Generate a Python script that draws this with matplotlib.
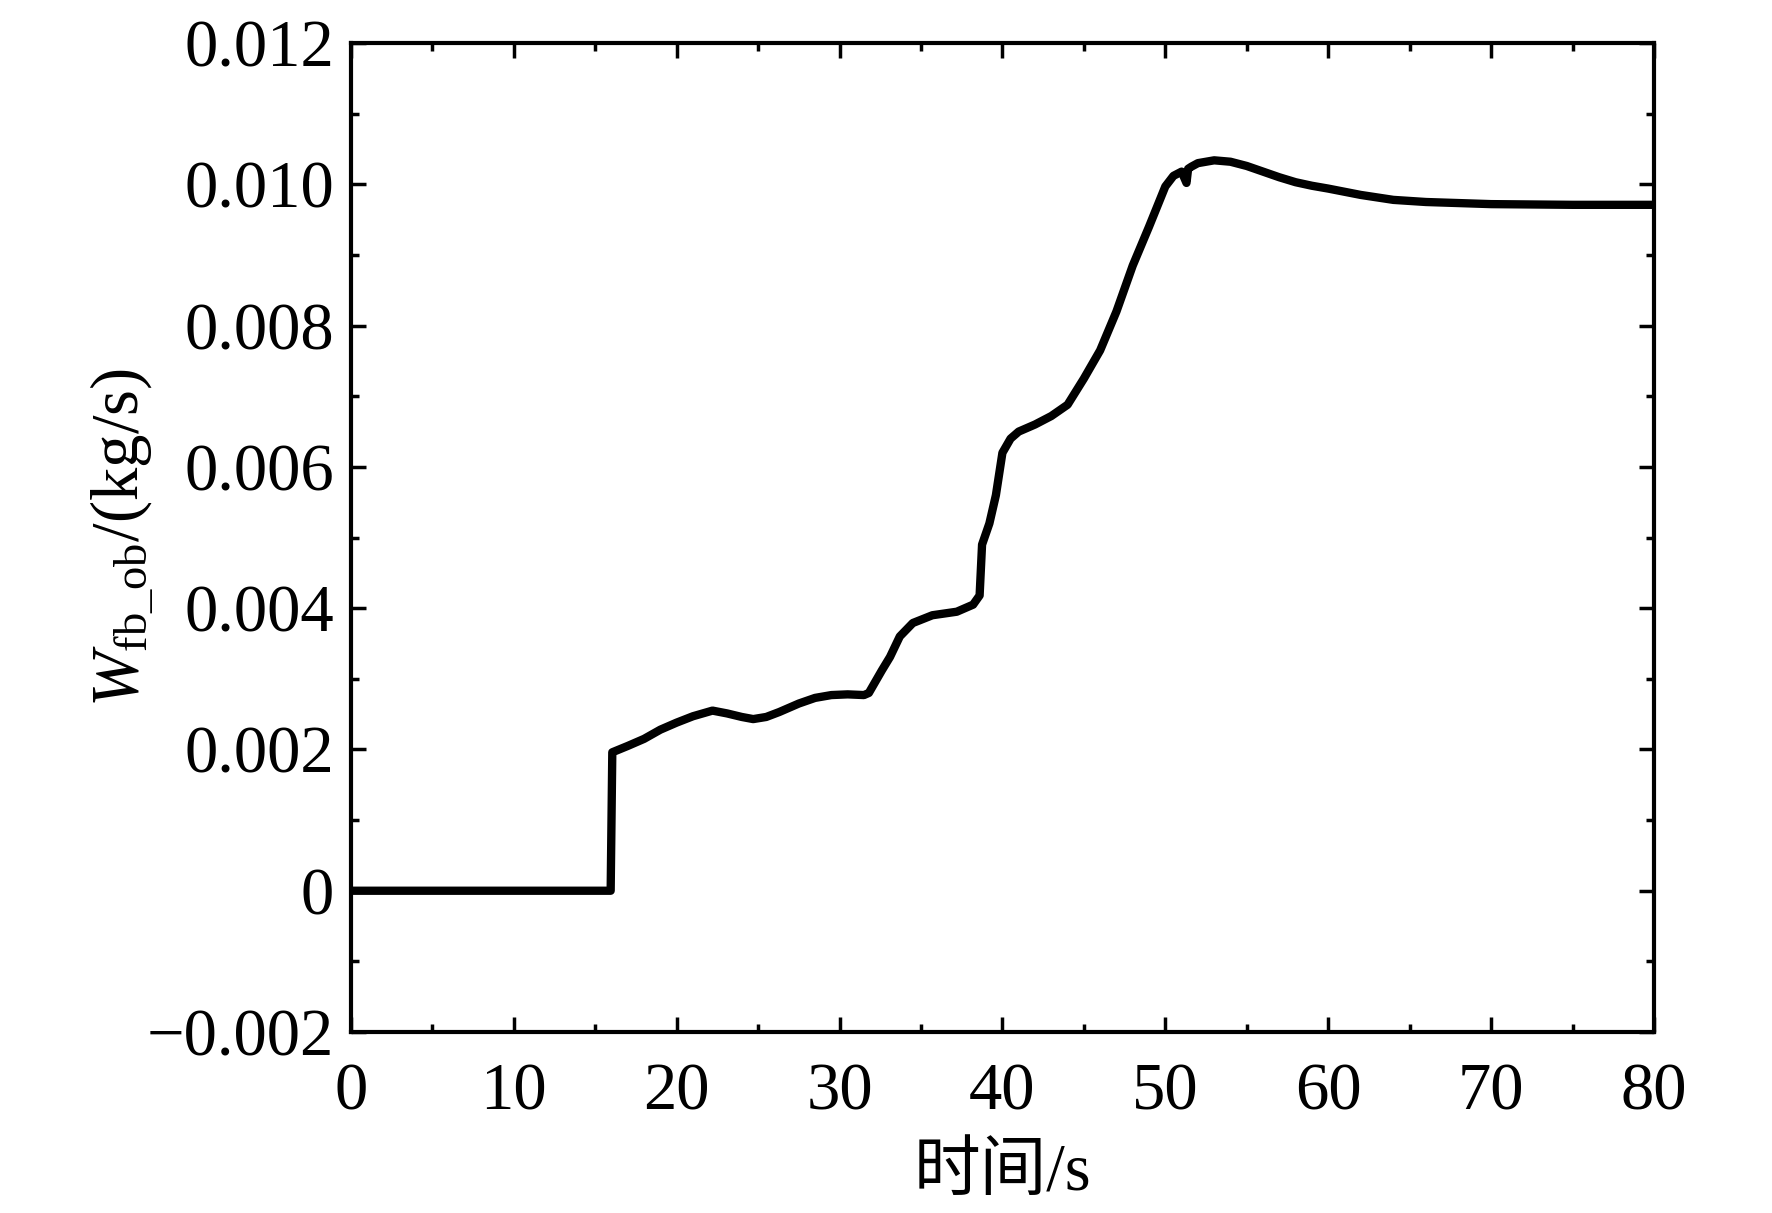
import matplotlib
matplotlib.use("Agg")
import matplotlib.pyplot as plt
from matplotlib.ticker import MultipleLocator, FuncFormatter

plt.rcParams['font.family'] = ['Liberation Serif', 'Noto Sans CJK SC', 'DejaVu Sans']
plt.rcParams['mathtext.fontset'] = 'custom'
plt.rcParams['mathtext.rm'] = 'Liberation Serif'
plt.rcParams['mathtext.it'] = 'Liberation Serif:italic'
plt.rcParams['axes.unicode_minus'] = True

# data (time s, W_fb_ob kg/s)
time_s = [0, 15.95, 16.05, 17, 18, 19, 20, 21, 22.2, 23.1, 24, 24.7, 25.5, 26.3,
          27.5, 28.5, 29.5, 30.5, 31.5, 31.8, 32.1, 32.6, 33.1, 33.7, 34.5, 35.7,
          37.2, 38.2, 38.6, 38.75, 39.2, 39.6, 40, 40.5, 41, 42, 43, 44, 45,
          46, 47, 48, 49, 50, 50.5, 51, 51.3, 51.4, 51.6, 52, 53, 54, 55, 56,
          57, 58, 59, 60, 62, 64, 66, 70, 75, 80]
w_fb_ob = [0, 0, 0.00196, 0.00205, 0.00215, 0.00228, 0.00238, 0.00247, 0.00255,
           0.00251, 0.00246, 0.00243, 0.00246, 0.00253, 0.00265, 0.00273,
           0.00277, 0.00278, 0.00277, 0.00280, 0.00292, 0.00312, 0.00331, 0.0036,
           0.00379, 0.0039, 0.00395, 0.00405, 0.00418, 0.0049, 0.0052, 0.0056,
           0.0062, 0.0064, 0.0065, 0.0066, 0.00672, 0.00688, 0.00725, 0.00765,
           0.0082, 0.00885, 0.0094, 0.00997, 0.01012, 0.01018, 0.01002, 0.01022,
           0.01025, 0.01030, 0.01034, 0.01032, 0.01026, 0.01018, 0.01010, 0.01003,
           0.00998, 0.00994, 0.00985, 0.00978, 0.00975, 0.00972, 0.00971, 0.00971]

x_ticks = [0, 10, 20, 30, 40, 50, 60, 70, 80]
y_ticks = [-0.002, 0, 0.002, 0.004, 0.006, 0.008, 0.010, 0.012]

fig = plt.figure(figsize=(17.72, 12.13), dpi=100)
ax = fig.add_axes([0.198, 0.1492, 0.9334 - 0.198, 0.9645 - 0.1492])

ax.plot(time_s, w_fb_ob, color='black', lw=6.0, solid_joinstyle='round',
        solid_capstyle='round')

ax.set_xlim(0, 80)
ax.set_ylim(-0.002, 0.012)
ax.set_xticks(x_ticks)
ax.set_yticks(y_ticks)
ax.xaxis.set_minor_locator(MultipleLocator(5))
ax.yaxis.set_minor_locator(MultipleLocator(0.001))

def yfmt(v, pos):
    if abs(v) < 1e-12:
        return '0'
    s = f'{v:.3f}'
    return s.replace('-', '\u2212')

ax.yaxis.set_major_formatter(FuncFormatter(yfmt))

for s in ax.spines.values():
    s.set_linewidth(3.0)

ax.tick_params(which='both', direction='in', top=True, right=True, width=2.5,
               labelsize=48)
ax.tick_params(axis='x', which='major', pad=22)
ax.tick_params(axis='y', which='major', pad=12)
ax.tick_params(which='major', length=11)
ax.tick_params(which='minor', length=6)

ax.set_xlabel('时间/s', fontsize=48)
ax.set_ylabel(r'$W_{\mathrm{fb\_ob}}$/(kg/s)', fontsize=48)
ax.xaxis.set_label_coords(0.5, -0.112)
ax.yaxis.set_label_coords(-0.15, 0.5)

fig.savefig('out.png', dpi=100, facecolor='white')
